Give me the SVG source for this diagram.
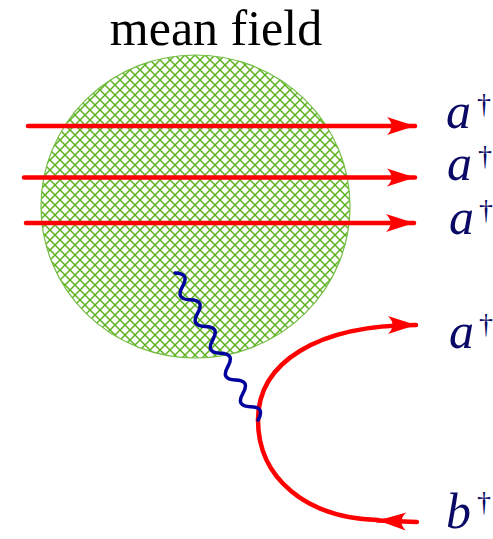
<svg xmlns="http://www.w3.org/2000/svg" width="493" height="539" viewBox="0 0 493 539">
<style>
.red{fill:none;stroke:#ff0000;stroke-width:4.5;stroke-linecap:round}
.lbl{font-family:"Liberation Serif",serif;fill:#0a0a66}
.it{font-style:italic;font-size:50px}
.dg{font-size:28px}
</style>
<defs>
<pattern id="hatch" patternUnits="userSpaceOnUse" width="10" height="10">
<path d="M-1,-1 L11,11 M11,-1 L-1,11" stroke="#5cb21e" stroke-width="1.5" fill="none"/>
</pattern>
<marker id="ah" markerUnits="userSpaceOnUse" markerWidth="40" markerHeight="30" viewBox="-30 -15 40 30" refX="0" refY="0" orient="auto" overflow="visible">
<path d="M0,0 L-28,-9 Q-19,0 -28,9 Z" fill="#ff0000"/>
</marker>
</defs>
<rect width="493" height="539" fill="#ffffff"/>
<g id="meanfield">
<ellipse cx="195.5" cy="206.5" rx="154.5" ry="151.5" fill="url(#hatch)" stroke="#72bd42" stroke-width="1.2"/>
<text x="216" y="45" font-family="Liberation Serif, serif" font-size="50" text-anchor="middle" fill="#000000">mean field</text>
</g>
<g id="connectors">
<path class="red" d="M28,126 L415,126" marker-end="url(#ah)"/>
<path class="red" d="M24,177.5 L415,177.5" marker-end="url(#ah)"/>
<path class="red" d="M26,223 L414,223" marker-end="url(#ah)"/>
<path class="red" d="M258,420 C258,362 318,325 416,325" marker-end="url(#ah)"/>
<path class="red" d="M258,420 C258,478 306,518 378,520"/>
<path class="red" d="M417,522 L378,520.5" marker-end="url(#ah)"/>
<path d="M0,0 q7.67,-13 15.35,0 t15.35,0 t15.35,0 t15.35,0 t15.35,0 t15.35,0 t15.35,0 t15.35,0 t15.35,0 t15.35,0 t15.35,0" transform="translate(175,273) rotate(60.55)" fill="none" stroke="#00009f" stroke-width="3.5" stroke-linecap="round"/>
</g>
<g id="label-a1"><text class="lbl it" x="446" y="128">a</text><text class="lbl dg" x="477" y="113">†</text></g>
<g id="label-a2"><text class="lbl it" x="447" y="180">a</text><text class="lbl dg" x="478" y="165">†</text></g>
<g id="label-a3"><text class="lbl it" x="449" y="234">a</text><text class="lbl dg" x="479" y="219">†</text></g>
<g id="label-a4"><text class="lbl it" x="449" y="348">a</text><text class="lbl dg" x="479" y="333">†</text></g>
<g id="label-b"><text class="lbl it" x="446" y="528">b</text><text class="lbl dg" x="477" y="511">†</text></g>
</svg>
